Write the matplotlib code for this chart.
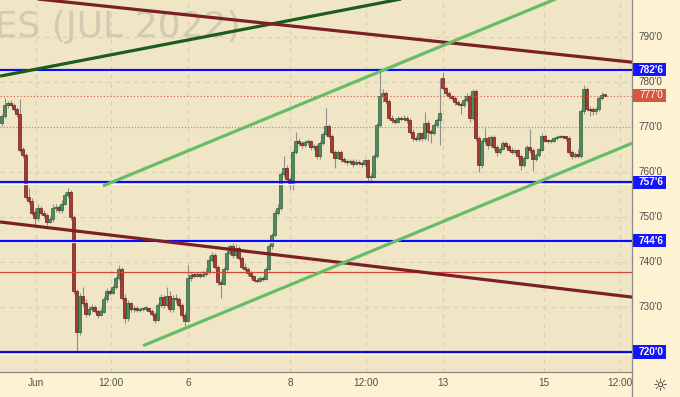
import matplotlib
matplotlib.use("Agg")
import matplotlib.pyplot as plt
from matplotlib.patches import Rectangle
from matplotlib.lines import Line2D
from matplotlib.transforms import blended_transform_factory
import numpy as np

# ---------------- data (hourly candles, CORN FUTURES JUL 2022) ----------------
opens = [
    771.0, 772.5, 774.8, 775.3, 775.0, 774.0, 772.8, 765.0, 763.8, 754.5,
    753.5, 751.0, 749.8, 752.0, 751.0, 750.5, 749.0, 749.5, 752.0, 752.3,
    751.5, 753.0, 754.8, 755.5, 750.0, 733.5, 724.5, 732.5, 731.0, 728.5,
    729.5, 730.0, 729.2, 728.3, 729.0, 731.8, 733.5, 733.2, 734.5, 736.5,
    738.5, 732.0, 727.5, 730.8, 729.5, 729.8, 729.3, 729.5, 729.6, 729.8,
    729.2, 728.4, 727.2, 730.5, 732.2, 730.5, 732.5, 729.5, 732.0, 731.8,
    730.5, 728.2, 727.0, 736.5, 737.2, 737.0, 737.3, 737.0, 737.4, 737.8,
    740.5, 741.5, 739.0, 735.5, 735.2, 738.5, 742.0, 743.5, 741.5, 743.2,
    741.0, 739.0, 738.5, 737.5, 736.8, 736.0, 735.8, 736.4, 736.2, 738.5,
    743.5, 746.0, 751.0, 752.0, 759.5, 761.0, 758.5, 757.5, 764.5, 767.0,
    766.5, 766.0, 766.6, 766.8, 765.5, 765.8, 763.5, 766.5, 768.5, 770.2,
    768.0, 764.5, 763.2, 764.5, 762.8, 762.5, 762.2, 762.5, 761.8, 762.3,
    762.0, 761.8, 762.6, 758.8, 759.0, 763.6, 770.5, 776.8, 777.5, 775.8,
    772.0, 771.5, 771.2, 772.0, 771.8, 772.1, 771.6, 769.0, 767.5, 767.3,
    768.6, 767.5, 771.0, 769.0, 768.6, 770.5, 771.5, 781.0, 778.7, 777.5,
    776.8, 776.5, 775.5, 775.2, 774.8, 776.0, 777.0, 772.0, 778.0, 767.5,
    761.5, 766.8, 767.5, 766.0, 767.8, 765.5, 764.5, 765.2, 766.5, 765.8,
    765.0, 764.5, 764.8, 763.5, 761.6, 763.2, 765.5, 764.8, 763.0, 763.8,
    765.0, 768.0, 767.0, 766.8, 767.0, 767.5, 767.8, 768.0, 767.7, 767.6,
    764.5, 763.5, 764.0, 763.5, 773.5, 778.5, 774.0, 773.8, 773.6, 774.0,
    776.5, 777.2,
]
highs = [
    772.8, 776.4, 775.8, 776.0, 775.4, 774.5, 776.2, 765.6, 764.2, 756.4,
    754.2, 752.0, 752.8, 752.5, 751.6, 751.0, 750.2, 753.0, 752.9, 752.7,
    753.8, 755.6, 756.4, 755.9, 750.5, 734.0, 733.2, 734.5, 731.8, 730.2,
    730.6, 730.4, 729.6, 729.8, 732.4, 734.2, 734.0, 735.0, 737.0, 739.3,
    739.0, 732.8, 731.5, 731.2, 730.5, 730.2, 730.1, 730.0, 730.3, 730.0,
    729.5, 728.8, 731.0, 733.0, 732.6, 734.5, 733.6, 732.6, 732.8, 732.2,
    731.0, 728.8, 739.3, 737.8, 737.6, 737.8, 737.6, 737.9, 738.6, 741.3,
    742.3, 741.9, 739.4, 736.2, 739.0, 742.6, 744.0, 744.2, 744.0, 743.6,
    741.4, 739.8, 738.9, 738.0, 737.2, 736.5, 736.8, 736.9, 739.0, 744.0,
    746.5, 751.5, 753.0, 760.0, 763.5, 761.5, 759.0, 765.0, 768.8, 767.6,
    767.0, 767.2, 767.3, 767.1, 766.3, 766.2, 767.0, 769.0, 774.2, 770.6,
    768.5, 765.0, 765.0, 765.0, 763.3, 763.0, 763.0, 762.9, 762.8, 762.7,
    762.4, 763.0, 763.0, 759.8, 764.0, 771.0, 782.2, 778.5, 778.0, 776.2,
    772.6, 772.0, 772.4, 772.5, 772.6, 772.5, 772.0, 769.5, 768.0, 769.0,
    769.0, 773.3, 771.5, 769.5, 771.0, 772.0, 781.0, 782.2, 779.2, 778.0,
    777.2, 777.0, 776.0, 775.6, 776.4, 777.5, 777.3, 778.5, 778.4, 768.0,
    767.3, 769.8, 768.0, 768.3, 768.2, 766.0, 765.6, 767.0, 767.0, 766.3,
    765.5, 765.2, 765.2, 764.0, 763.6, 766.0, 769.5, 765.3, 764.2, 765.4,
    768.6, 768.5, 767.4, 767.4, 767.8, 768.2, 768.3, 768.3, 768.0, 767.9,
    765.0, 764.5, 765.2, 774.0, 779.3, 779.0, 774.6, 774.4, 774.5, 777.0,
    777.8, 777.4,
]
lows = [
    770.2, 772.0, 774.3, 774.6, 773.6, 772.3, 764.5, 763.2, 754.0, 752.8,
    750.5, 748.2, 749.2, 750.4, 749.8, 748.2, 748.6, 749.0, 751.2, 750.8,
    751.0, 752.6, 754.2, 749.4, 733.0, 720.2, 723.8, 730.2, 727.8, 728.0,
    729.0, 728.6, 727.5, 728.0, 728.6, 731.2, 732.6, 732.8, 734.0, 736.0,
    731.5, 726.4, 727.0, 729.0, 729.0, 728.8, 729.0, 729.1, 729.2, 728.8,
    727.9, 726.5, 726.9, 730.0, 729.8, 730.0, 728.8, 729.0, 731.0, 729.8,
    727.6, 725.8, 726.6, 735.8, 736.5, 736.6, 736.4, 736.7, 737.0, 737.3,
    740.0, 738.5, 735.0, 732.0, 734.8, 738.0, 741.5, 741.0, 741.0, 740.5,
    738.5, 738.0, 737.0, 736.3, 735.6, 735.3, 735.5, 735.7, 735.9, 738.0,
    743.0, 745.5, 750.5, 751.6, 758.8, 757.8, 756.2, 756.0, 764.0, 765.8,
    765.4, 765.6, 766.0, 765.0, 765.0, 762.8, 763.0, 766.0, 768.0, 767.5,
    764.0, 760.8, 762.8, 762.3, 762.0, 761.6, 761.8, 761.2, 761.5, 761.5,
    761.2, 761.4, 758.0, 757.6, 758.6, 763.2, 770.0, 775.5, 775.2, 771.5,
    770.8, 770.6, 770.9, 771.3, 771.4, 771.0, 768.5, 767.0, 766.8, 767.0,
    767.0, 767.2, 767.0, 766.5, 768.2, 770.0, 766.0, 778.2, 777.0, 776.2,
    776.0, 775.0, 774.6, 772.8, 774.4, 775.6, 771.2, 771.6, 767.0, 760.0,
    761.0, 766.3, 765.2, 765.6, 765.0, 763.5, 764.0, 764.8, 765.4, 764.6,
    764.0, 764.1, 763.0, 760.4, 761.2, 762.8, 764.3, 760.2, 762.5, 763.4,
    764.6, 766.6, 766.4, 766.5, 766.7, 767.2, 767.5, 767.3, 767.0, 764.0,
    762.8, 763.1, 763.2, 763.2, 773.0, 773.5, 772.5, 772.6, 773.0, 773.6,
    776.1, 776.8,
]
closes = [
    772.5, 774.8, 775.3, 775.0, 774.0, 772.8, 765.0, 763.8, 754.5, 753.5,
    751.0, 749.8, 752.0, 751.0, 750.5, 749.0, 749.5, 752.0, 752.3, 751.5,
    753.0, 754.8, 755.5, 750.0, 733.5, 724.5, 732.5, 731.0, 728.5, 729.5,
    730.0, 729.2, 728.3, 729.0, 731.8, 733.5, 733.2, 734.5, 736.5, 738.5,
    732.0, 727.5, 730.8, 729.5, 729.8, 729.3, 729.5, 729.6, 729.8, 729.2,
    728.4, 727.2, 730.5, 732.2, 730.5, 732.5, 729.5, 732.0, 731.8, 730.5,
    728.2, 727.0, 736.5, 737.2, 737.0, 737.3, 737.0, 737.4, 737.8, 740.5,
    741.5, 739.0, 735.5, 735.2, 738.5, 742.0, 743.5, 741.5, 743.2, 741.0,
    739.0, 738.5, 737.5, 736.8, 736.0, 735.8, 736.4, 736.2, 738.5, 743.5,
    746.0, 751.0, 752.0, 759.5, 761.0, 758.5, 757.5, 764.5, 767.0, 766.5,
    766.0, 766.6, 766.8, 765.5, 765.8, 763.5, 766.5, 768.5, 770.2, 768.0,
    764.5, 763.2, 764.5, 762.8, 762.5, 762.2, 762.5, 761.8, 762.3, 762.0,
    761.8, 762.6, 758.8, 759.0, 763.6, 770.5, 776.8, 777.5, 775.8, 772.0,
    771.5, 771.2, 772.0, 771.8, 772.1, 771.6, 769.0, 767.5, 767.3, 768.6,
    767.5, 771.0, 769.0, 768.6, 770.5, 771.5, 773.2, 778.7, 777.5, 776.8,
    776.5, 775.5, 775.2, 774.8, 776.0, 777.0, 772.0, 778.0, 767.5, 761.5,
    766.8, 767.5, 766.0, 767.8, 765.5, 764.5, 765.2, 766.5, 765.8, 765.0,
    764.5, 764.8, 763.5, 761.6, 763.2, 765.5, 764.8, 763.0, 763.8, 765.0,
    768.0, 767.0, 766.8, 767.0, 767.5, 767.8, 768.0, 767.7, 767.6, 764.5,
    763.5, 764.0, 763.5, 773.5, 778.5, 774.0, 773.8, 773.6, 774.0, 776.5,
    777.2, 777.0,
]

x_tick_labels = ["Jun", "12:00", "6", "8", "12:00", "13", "15", "12:00"]
x_tick_bars = [11.5, 36.5, 62.2, 96.2, 121.5, 147.2, 180.8, 206.2]
y_tick_values = [720, 730, 740, 750, 760, 770, 780, 790]
blue_levels = [782.75, 757.75, 744.75, 720.0]
red_level = 737.75
last_price = 777.0
prev_close = 770.0

# drawn trend lines: (bar indices, prices)
dark_green_line = ([-0.5, 150.0], [781.3, 800.6])
maroon_upper = ([0.0, 210.2], [799.3, 784.4])
maroon_lower = ([-0.5, 210.2], [748.9, 732.2])
green_upper = ([33.8, 190.0], [756.9, 799.9])
green_lower = ([47.2, 210.2], [721.4, 766.4])
watermark = "CORN FUTURES (JUL 2022)"


def fmt(v):
    whole = int(np.floor(v + 1e-9))
    eighth = int(round((v - whole) * 8))
    return f"{whole}'{eighth}"


# ---------------- figure ----------------
W, H, DPI = 680, 397, 100
PLOT_W, PLOT_H, BOTTOM = 632, 372, 25
fig = plt.figure(figsize=(W / DPI, H / DPI), dpi=DPI)
fig.patch.set_facecolor("#fdf2d2")
ax = fig.add_axes([0, BOTTOM / H, PLOT_W / W, PLOT_H / H])
ax.set_facecolor("#f0e6c6")
ax.set_xlim(-0.5, (PLOT_W - 1.5) / 3.0)
ax.set_ylim(720 - 20 / 4.5, 720 + 352 / 4.5)
for s in ax.spines.values():
    s.set_visible(False)
ax.set_xticks([])
ax.set_yticks([])

font = "Liberation Sans"

# watermark (left part runs off the chart, as in the original)
ax.text(241 / W, 1 - 37 / H, watermark, transform=fig.transFigure, ha="right",
        va="baseline", fontsize=26, color="#d2cab3", family="DejaVu Sans",
        zorder=0.5)

# grid
grid_kw = dict(color="#d8cfb4", lw=0.8, ls=(0, (4, 4)), zorder=1)
for v in y_tick_values:
    if v != prev_close:
        ax.axhline(v, **grid_kw)
for b in x_tick_bars:
    ax.axvline(b, **grid_kw)
ax.axhline(prev_close, color="#a09a90", lw=0.9, ls=(0, (1, 1.5)), zorder=1.2)

# candles
idx = np.arange(len(closes))
o = np.array(opens)
c = np.array(closes)
h = np.array(highs)
l = np.array(lows)
up = c >= o
ax.vlines(idx, l, h, color="#8f8f8f", lw=0.8, zorder=3)
body_h = np.maximum(np.abs(c - o), 0.3)
face = np.where(up, "#4e8c5e", "#a8392f")
edge = np.where(up, "#2f5e3c", "#6a2019")
ax.bar(idx, body_h, bottom=np.minimum(o, c), width=0.72, color=face,
       edgecolor=edge, linewidth=0.5, zorder=4)

# horizontal levels
ax.axhline(red_level, color="#d4453a", lw=0.9, zorder=5)
ax.axhline(last_price, color="#d9553f", lw=0.8, ls=(0, (1, 2)), zorder=5)
for lv in blue_levels:
    ax.axhline(lv - 0.4, color="#fffbe6", lw=0.9, zorder=5.5)
    ax.axhline(lv, color="#0a0aff", lw=1.6, zorder=6)
ax.axhline(blue_levels[-1], color="#000080", lw=0.8, ls=(0, (1, 1.5)), zorder=6.1)

# trend lines
ax.plot(*dark_green_line, color="#1d5c1d", lw=2.3, zorder=7, solid_capstyle="butt")
ax.plot(*maroon_upper, color="#7b2025", lw=2.3, zorder=7, solid_capstyle="butt")
ax.plot(*maroon_lower, color="#7b2025", lw=2.3, zorder=7, solid_capstyle="butt")
ax.plot(*green_upper, color="#66bd66", lw=2.3, zorder=7, solid_capstyle="butt")
ax.plot(*green_lower, color="#66bd66", lw=2.3, zorder=7, solid_capstyle="butt")

# axis separators
fig.add_artist(Line2D([PLOT_W / W] * 2, [0, 1], color="#8c8a84", lw=0.9))
fig.add_artist(Line2D([0, PLOT_W / W], [BOTTOM / H] * 2, color="#8c8a84", lw=0.9))

# right price axis
tr = blended_transform_factory(ax.transAxes, ax.transData)
lab_x = 651 / PLOT_W
for v in y_tick_values:
    ax.text(lab_x, v, fmt(v), transform=tr, ha="center", va="center",
            fontsize=7.2, color="#4f4f4f", family=font, clip_on=False, zorder=8)
box_w = (666 - 632) / PLOT_W
for lv in blue_levels:
    ax.add_patch(Rectangle((1.0, lv - 6.5 / 4.5), box_w, 13 / 4.5, transform=tr,
                           facecolor="#1414ff", edgecolor="none", clip_on=False, zorder=9))
    ax.text(lab_x, lv, fmt(lv), transform=tr, ha="center", va="center",
            fontsize=7.2, color="white", family=font, fontweight="bold",
            clip_on=False, zorder=10)
ax.add_patch(Rectangle((1.0, last_price - 6.2 / 4.5), box_w, 12.4 / 4.5, transform=tr,
                       facecolor="#d9553f", edgecolor="none", clip_on=False, zorder=9))
ax.text(lab_x, last_price, fmt(last_price), transform=tr, ha="center", va="center",
        fontsize=7.2, color="white", family=font, clip_on=False, zorder=10)

# bottom time axis
trx = blended_transform_factory(ax.transData, ax.transAxes)
for b, t in zip(x_tick_bars, x_tick_labels):
    ax.text(b, -11 / PLOT_H, t, transform=trx, ha="center", va="center",
            fontsize=7.2, color="#4f4f4f", family=font, clip_on=False)

fig.text(660 / W, 1 - 386 / H, "\u263c", ha="center", va="center",
         fontsize=12, color="#333333", family="DejaVu Sans")

fig.savefig("out.png", dpi=DPI, facecolor=fig.get_facecolor())
